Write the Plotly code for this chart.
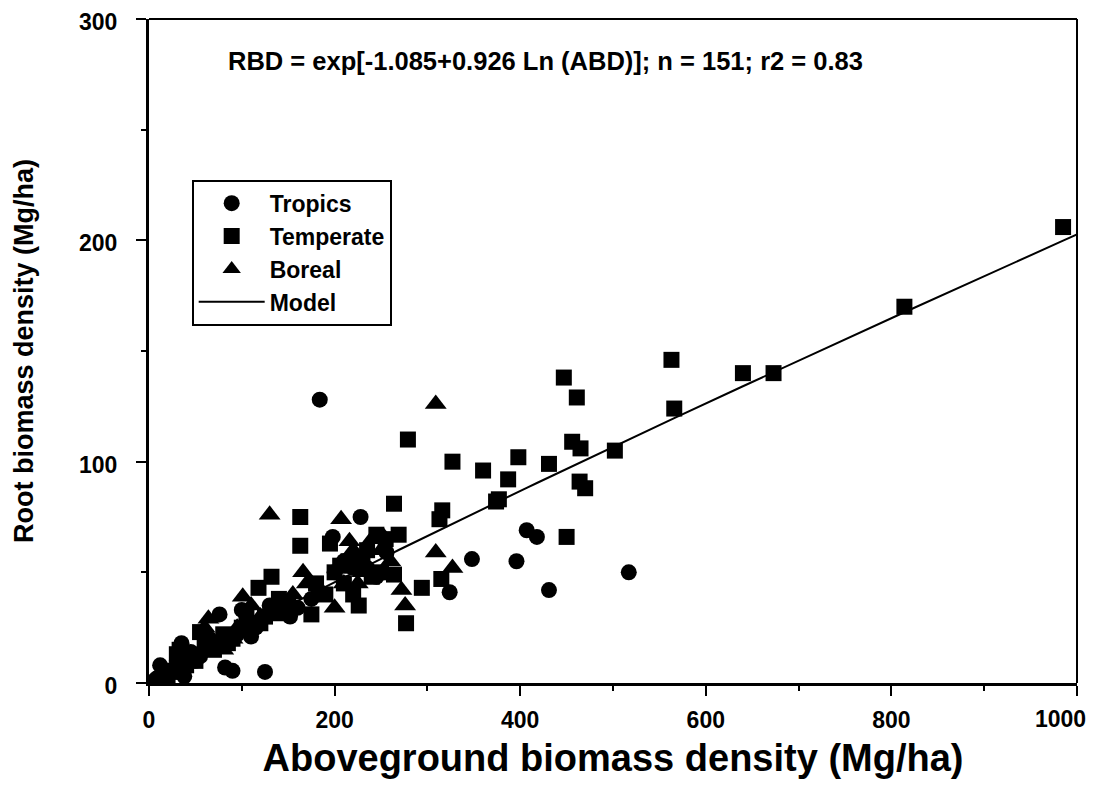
import numpy as np
import plotly.graph_objects as go

# ---- data ----
tropics_abd = [4, 8, 12, 20, 25, 30, 35, 38, 42, 45, 50, 55, 60, 65, 70, 76, 82, 90, 95, 100,
               110, 115, 125, 130, 140, 152, 160, 175, 184, 198, 200, 210, 220, 228, 235, 245,
               256, 324, 348, 396, 407, 418, 431, 517]
tropics_rbd = [0.5, 2, 8, 4, 6, 10, 18, 3, 12, 14, 10, 12, 15, 20, 18, 31, 7, 5.5, 22, 33,
               21, 25, 5, 35, 32, 30, 34, 38, 128, 66, 50, 55, 52, 75, 52, 48,
               59, 41, 56, 55, 69, 66, 42, 50]

temperate_abd = [985, 814, 673, 640, 563, 566, 502, 447, 461, 456, 465, 464, 470, 450, 431, 398,
                 387, 374, 377, 360, 327, 279, 316, 313, 264, 269, 245, 240, 264, 294, 315, 277,
                 226, 206, 195, 163, 163, 132, 118, 175, 210, 220, 230, 250, 190, 150, 140, 125,
                 120, 100, 90, 80, 70, 55, 50, 40, 33, 30, 25, 20, 60, 85, 105, 180, 200, 215, 235, 255]
temperate_rbd = [206, 170, 140, 140, 146, 124, 105, 138, 129, 109, 106, 91, 88, 66, 99, 102,
                 92, 82, 83, 96, 100, 110, 78, 74, 81, 67, 67, 48, 49, 43, 47, 27,
                 35, 53, 63, 75, 62, 48, 43, 31, 45, 40, 55, 50, 40, 35, 38, 30,
                 27, 25, 20, 22, 15, 23, 10, 8, 15, 13, 5, 3, 18, 18, 30, 45, 50, 55, 60, 65]

boreal_abd = [309, 130, 207, 309, 327, 272, 276, 200, 166, 216, 253, 101, 64, 220, 240, 230,
              180, 150, 140, 120, 110, 90, 80, 70, 60, 50, 40, 30, 20, 155, 170, 185, 210, 225,
              135, 95, 250, 260]
boreal_rbd = [126, 76, 74, 59, 52, 42, 35, 34, 50, 64, 66, 39, 29, 60, 65, 50,
              40, 35, 32, 30, 35, 20, 15, 18, 25, 12, 10, 8, 5, 40, 45, 42, 45, 45,
              30, 25, 60, 55]

# model stated on the chart: RBD = exp[-1.085 + 0.926 Ln(ABD)]
model_a = -1.085
model_b = 0.926
model_abd = sorted(set(tropics_abd + temperate_abd + boreal_abd + [1000]))
model_rbd = [float(np.exp(model_a + model_b * np.log(v))) for v in model_abd]

x_ticks = [0, 200, 400, 600, 800, 1000]
y_ticks = [0, 100, 200, 300]
# the last x label sits at the page edge; it is drawn right-aligned as an annotation
x_ticktext = [str(v) for v in x_ticks[:-1]] + [""]
last_x_label = str(x_ticks[-1])

FONT = "Liberation Sans"

fig = go.Figure()
fig.add_trace(go.Scatter(x=tropics_abd, y=tropics_rbd, mode="markers", name="Tropics",
                         marker=dict(symbol="circle", size=16, color="black", line=dict(width=0))))
fig.add_trace(go.Scatter(x=temperate_abd, y=temperate_rbd, mode="markers", name="Temperate",
                         marker=dict(symbol="square", size=16, color="black", line=dict(width=0))))
fig.add_trace(go.Scatter(x=boreal_abd, y=boreal_rbd, mode="markers", name="Boreal",
                         marker=dict(symbol="triangle-up", size=19, color="black", line=dict(width=0))))
fig.add_trace(go.Scatter(x=model_abd, y=model_rbd, mode="lines", name="Model",
                         line=dict(color="black", width=2)))

axis_common = dict(showgrid=False, zeroline=False, showline=True, linecolor="black", linewidth=3,
                   ticks="outside", ticklen=10, tickwidth=2, tickcolor="black",
                   ticklabeloverflow="allow", automargin=False,
                   tickfont=dict(family=FONT, size=23, color="black", weight="bold"))

fig.update_layout(
    width=1082, height=771,
    margin=dict(l=141, r=13, t=11, b=96),
    paper_bgcolor="white", plot_bgcolor="white",
    showlegend=True,
    legend=dict(x=0.046, y=0.758, xanchor="left", yanchor="top",
                bordercolor="black", borderwidth=2, bgcolor="white",
                font=dict(family=FONT, size=23, color="black", weight="bold"),
                tracegroupgap=0, itemwidth=66),
    xaxis=dict(range=[0, 1000], tickvals=x_ticks, ticktext=x_ticktext,
               minor=dict(dtick=100, ticks="outside", ticklen=5, tickwidth=2, tickcolor="black"),
               ticklabelstandoff=4,
               title=dict(text="Aboveground biomass density (Mg/ha)", standoff=14,
                          font=dict(family=FONT, size=38, color="black", weight="bold")),
               **axis_common),
    yaxis=dict(range=[0, 300], tickvals=y_ticks, ticktext=[str(v) for v in y_ticks],
               minor=dict(dtick=50, ticks="outside", ticklen=5, tickwidth=2, tickcolor="black"),
               ticklabelstandoff=14, ticklabelshift=3,
               title=dict(text="Root biomass density (Mg/ha)", standoff=38,
                          font=dict(family=FONT, size=27, color="black", weight="bold")),
               **axis_common),
    annotations=[
        dict(text="RBD = exp[-1.085+0.926 Ln (ABD)]; n = 151; r2 = 0.83",
             x=0.4275, y=0.961, xref="paper", yref="paper", showarrow=False,
             font=dict(family=FONT, size=25.5, color="black", weight="bold")),
        dict(text=last_x_label, x=1, y=0, xref="paper", yref="paper", showarrow=False,
             xanchor="right", yanchor="middle", xshift=11, yshift=-36,
             font=dict(family=FONT, size=23, color="black", weight="bold")),
    ],
)
# top and right frame lines without ticks
fig.add_shape(type="line", xref="paper", yref="paper", x0=0, x1=1, y0=1, y1=1,
              line=dict(color="black", width=2))
fig.add_shape(type="line", xref="paper", yref="paper", x0=1, x1=1, y0=0, y1=1,
              line=dict(color="black", width=2))

fig.write_html("out.html")
